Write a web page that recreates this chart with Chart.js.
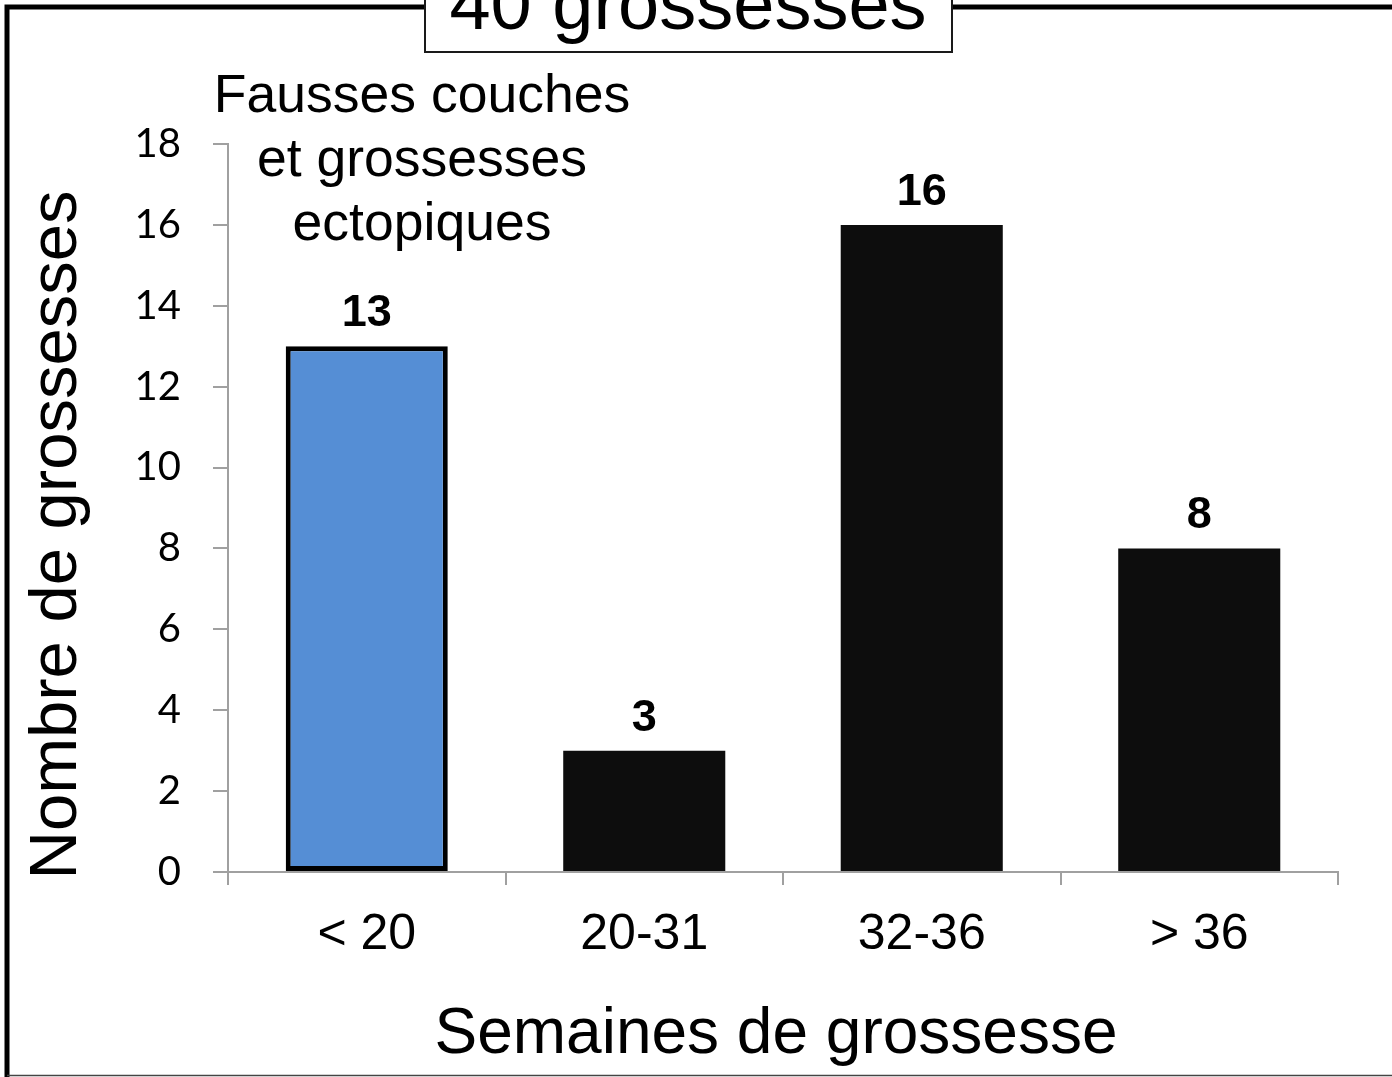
<!DOCTYPE html>
<html>
<head>
<meta charset="utf-8">
<script src="https://cdn.jsdelivr.net/npm/chart.js@4.4.0/dist/chart.umd.min.js"></script>
<style>
  html, body { margin: 0; padding: 0; background: #ffffff; overflow: hidden; }
  canvas { display: block; }
</style>
</head>
<body>
<canvas id="chart" width="1392" height="1077"></canvas>
<script>
// Pregnancy outcomes by gestational age (weeks)
const categories = ['< 20', '20-31', '32-36', '> 36'];
const pregnancies = [13, 3, 16, 8];
const barColors = ['#558ED5', '#0D0D0D', '#0D0D0D', '#0D0D0D'];
const barBorderColors = ['#000000', '#0D0D0D', '#0D0D0D', '#0D0D0D'];
const barBorderWidths = [5, 0, 0, 0];
const yMin = 0;
const yMax = 18;
const yStep = 2;

const chartTitle = '40 grossesses';
const noteLines = ['Fausses couches', 'et grossesses', 'ectopiques'];
const xTitle = 'Semaines de grossesse';
const yTitle = 'Nombre de grossesses';

const ARIAL = '"Liberation Sans", Arial, sans-serif';
const AXIS_GRAY = '#A0A0A0';

// Frame, boxed title, note text, axis titles and the values above each bar
const decorPlugin = {
  id: 'decor',
  afterDatasetsDraw(chart) {
    const ctx = chart.ctx;
    const meta = chart.getDatasetMeta(0);
    ctx.save();
    ctx.fillStyle = '#000';
    ctx.font = 'bold 45px ' + ARIAL;
    ctx.textAlign = 'center';
    ctx.textBaseline = 'alphabetic';
    meta.data.forEach((bar, i) => {
      ctx.fillText(String(pregnancies[i]), bar.x, bar.y - 20);
    });
    ctx.restore();
  },
  afterDraw(chart) {
    const ctx = chart.ctx;
    ctx.save();

    // outer frame: heavy left and top edges, thin bottom edge
    ctx.strokeStyle = '#000';
    ctx.lineWidth = 5;
    ctx.beginPath();
    ctx.moveTo(7, 1077);
    ctx.lineTo(7, 7);
    ctx.lineTo(1392, 7);
    ctx.stroke();
    ctx.strokeStyle = '#444';
    ctx.lineWidth = 1.5;
    ctx.beginPath();
    ctx.moveTo(7, 1075.5);
    ctx.lineTo(1392, 1075.5);
    ctx.stroke();

    // boxed title at the top edge
    ctx.fillStyle = '#fff';
    ctx.fillRect(425, -10, 527, 62);
    ctx.strokeStyle = '#1a1a1a';
    ctx.lineWidth = 2;
    ctx.strokeRect(425, -10, 527, 62);
    ctx.fillStyle = '#000';
    ctx.font = '74px ' + ARIAL;
    ctx.textAlign = 'center';
    ctx.textBaseline = 'alphabetic';
    ctx.fillText(chartTitle, 688, 29);

    // note above the first bar
    ctx.font = '53.5px ' + ARIAL;
    noteLines.forEach((line, i) => {
      ctx.fillText(line, 422, 112 + i * 64);
    });

    // x axis title
    ctx.font = '64px ' + ARIAL;
    ctx.fillText(xTitle, 776, 1053);

    // y axis title
    ctx.translate(76, 535);
    ctx.rotate(-Math.PI / 2);
    ctx.font = '67px ' + ARIAL;
    ctx.fillText(yTitle, 0, 0);

    ctx.restore();
  }
};

new Chart(document.getElementById('chart'), {
  type: 'bar',
  data: {
    labels: categories,
    datasets: [{
      data: pregnancies,
      backgroundColor: barColors,
      borderColor: barBorderColors,
      borderWidth: barBorderWidths,
      borderSkipped: false,
      barPercentage: 0.584,
      categoryPercentage: 1.0
    }]
  },
  options: {
    responsive: false,
    animation: false,
    devicePixelRatio: 1,
    layout: { padding: { left: 128, right: 54, top: 144, bottom: 85 } },
    plugins: {
      legend: { display: false },
      tooltip: { enabled: false },
      title: { display: false }
    },
    scales: {
      x: {
        offset: true,
        grid: {
          offset: true,
          drawOnChartArea: false,
          drawTicks: true,
          tickLength: 13,
          color: AXIS_GRAY,
          lineWidth: 2
        },
        border: { display: true, color: AXIS_GRAY, width: 2 },
        ticks: {
          color: '#000',
          font: { family: ARIAL, size: 50 },
          padding: 20,
          maxRotation: 0
        },
        afterFit(scale) { scale.height = 120; }
      },
      y: {
        min: yMin,
        max: yMax,
        ticks: {
          stepSize: yStep,
          color: '#000',
          font: { family: 'Lato, "Open Sans", sans-serif', size: 40 },
          padding: 32
        },
        grid: {
          drawOnChartArea: false,
          drawTicks: true,
          tickLength: 15,
          color: AXIS_GRAY,
          lineWidth: 2
        },
        border: { display: true, color: AXIS_GRAY, width: 2 },
        afterFit(scale) { scale.width = 100; }
      }
    }
  },
  plugins: [decorPlugin]
});
</script>
</body>
</html>
